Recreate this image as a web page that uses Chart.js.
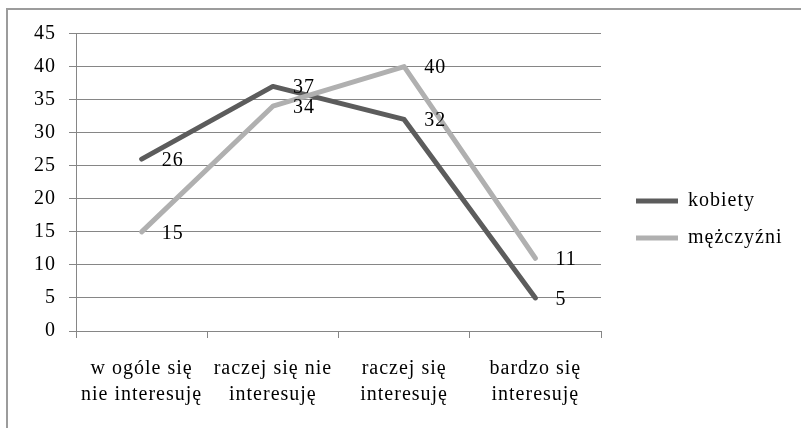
<!DOCTYPE html>
<html><head><meta charset="utf-8">
<script src="https://cdn.jsdelivr.net/npm/chart.js@4"></script>
<style>
html,body{margin:0;padding:0;background:#fff;overflow:hidden}
#wrap{position:absolute;left:0;top:0;width:801px;height:428px}
#frame{position:absolute;left:6px;top:8px;width:900px;height:500px;border-left:2px solid #9c9c9c;border-top:2px solid #9c9c9c;pointer-events:none}
</style></head><body>
<div id="wrap"><canvas id="c" width="801" height="428"></canvas></div>
<div id="frame"></div>
<script>
const categories = [['w ogóle się','nie interesuję'],['raczej się nie','interesuję'],['raczej się','interesuję'],['bardzo się','interesuję']];
const seriesNames = ['kobiety','mężczyźni'];
const kobiety = [26,37,32,5];
const mezczyzni = [15,34,40,11];
const yMin = 0, yMax = 45, yStep = 5;
const seriesColors = ['#5c5c5c','#b0b0b0'];

const FONT = "'Liberation Serif','Times New Roman',serif";
Chart.defaults.font.family = FONT;
Chart.defaults.font.size = 20;
Chart.defaults.color = '#000';

const spacing = {
  id:'spacing',
  beforeUpdate(c){c.ctx.letterSpacing='1px';},
  beforeLayout(c){c.ctx.letterSpacing='1px';},
  beforeDraw(c){c.ctx.letterSpacing='1px';}
};
const dataLabels = {
  id:'dataLabels',
  afterDatasetsDraw(chart){
    const ctx = chart.ctx;
    ctx.save();
    ctx.letterSpacing='1px';
    ctx.font = "20px " + FONT;
    ctx.fillStyle = '#000';
    ctx.textAlign = 'left';
    ctx.textBaseline = 'middle';
    chart.data.datasets.forEach((ds,i)=>{
      chart.getDatasetMeta(i).data.forEach((pt,j)=>{
        ctx.fillText(String(ds.data[j]), pt.x + 20, pt.y + 1.5);
      });
    });
    ctx.restore();
  }
};

new Chart(document.getElementById('c'), {
  type:'line',
  data:{
    labels:categories,
    datasets:[
      {label:seriesNames[0], data:kobiety, borderColor:seriesColors[0], backgroundColor:seriesColors[0], borderWidth:5, pointRadius:0, borderCapStyle:'round', borderJoinStyle:'round', order:1},
      {label:seriesNames[1], data:mezczyzni, borderColor:seriesColors[1], backgroundColor:seriesColors[1], borderWidth:5, pointRadius:0, borderCapStyle:'round', borderJoinStyle:'round', order:0}
    ]
  },
  options:{
    responsive:false,
    animation:false,
    devicePixelRatio:1,
    layout:{padding:{left:0, top:11, right:12, bottom:0}},
    plugins:{
      tooltip:{enabled:false},
      legend:{
        position:'right', align:'center', maxWidth:170,
        labels:{usePointStyle:true, pointStyle:'line', pointStyleWidth:42, padding:17, color:'#000', font:{size:20},
          sort:(a,b)=>a.datasetIndex-b.datasetIndex}
      }
    },
    scales:{
      x:{
        offset:true,
        grid:{offset:true, drawOnChartArea:false, tickLength:7, color:'#868686', lineWidth:1},
        border:{display:true, color:'#868686', width:1},
        ticks:{padding:17, color:'#000', font:{size:20, lineHeight:1.33}, maxRotation:0, autoSkip:false},
        afterFit(s){s.height=97;}
      },
      xTop:{
        type:'category', position:'top', display:true,
        grid:{display:false}, border:{display:false}, ticks:{display:false},
        afterFit(s){s.height=22.5;}
      },
      y:{
        min:yMin, max:yMax,
        ticks:{stepSize:yStep, padding:13, color:'#000', font:{size:20}},
        grid:{color:'#868686', lineWidth:1, tickLength:7},
        border:{display:true, color:'#868686', width:1},
        afterFit(s){s.width=76;}
      },
      yRight:{
        type:'linear', position:'right', display:true,
        grid:{display:false}, border:{display:false}, ticks:{display:false},
        afterFit(s){s.width=18;}
      }
    }
  },
  plugins:[spacing, dataLabels]
});
</script>
</body></html>
